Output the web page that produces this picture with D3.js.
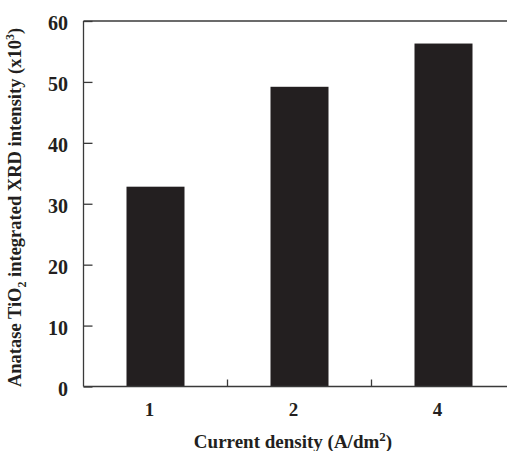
<!DOCTYPE html>
<html><head><meta charset="utf-8">
<script src="https://cdn.jsdelivr.net/npm/d3@7"></script>
<style>body{margin:0;background:#fff}svg{display:block}text{font-family:"Liberation Serif","Times New Roman",serif;font-weight:bold;fill:#231f20}</style>
</head><body><svg id="c" width="507" height="451"></svg>
<script>
const categories = ["1", "2", "4"];
const values = [32.8, 49.2, 56.3];
const yTicks = [0, 10, 20, 30, 40, 50, 60];

const svg = d3.select("#c");
const m = {l: 83.5, t: 21, r: 515.5, b: 386.5};
const x = d3.scaleBand().domain(categories).range([m.l, m.r]).paddingInner(0).paddingOuter(0);
const y = d3.scaleLinear().domain([0, 60]).range([m.b, m.t]);
const barW = 58;

svg.selectAll("rect.bar").data(values).enter().append("rect")
  .attr("x", (d, i) => x(categories[i]) + x.bandwidth() / 2 - barW / 2)
  .attr("y", d => y(d)).attr("width", barW).attr("height", d => y(0) - y(d))
  .attr("fill", "#231f20");

// y axis
const ya = svg.append("g").attr("transform", `translate(${m.l},0)`)
  .call(d3.axisRight(y).tickValues(yTicks).tickSize(9).tickFormat(""));
ya.select(".domain").remove();
ya.selectAll("line").attr("stroke", "#3a3a3a").attr("stroke-width", 1.3);
svg.append("line").attr("x1", m.l).attr("x2", m.l).attr("y1", m.t).attr("y2", m.b)
  .attr("stroke", "#3a3a3a").attr("stroke-width", 1.3);
svg.append("line").attr("x1", m.l).attr("x2", 507).attr("y1", m.t).attr("y2", m.t)
  .attr("stroke", "#3a3a3a").attr("stroke-width", 1.3);
svg.append("line").attr("x1", m.l).attr("x2", 507).attr("y1", m.b).attr("y2", m.b)
  .attr("stroke", "#3a3a3a").attr("stroke-width", 1.3);
svg.selectAll("text.yt").data(yTicks).enter().append("text")
  .attr("x", 68).attr("y", d => y(d) + 9).attr("text-anchor", "end")
  .style("font-size", "20px").text(d => d);

// x ticks between categories
const xt = categories.slice(1).map(c => x(c));
svg.selectAll("line.xt").data(xt).enter().append("line")
  .attr("x1", d => d).attr("x2", d => d).attr("y1", m.b).attr("y2", m.b - 7)
  .attr("stroke", "#3a3a3a").attr("stroke-width", 1.3);
svg.selectAll("text.xl").data(categories).enter().append("text")
  .attr("x", d => x(d) + x.bandwidth() / 2 - 6).attr("y", 416).attr("text-anchor", "middle")
  .style("font-size", "19px").text(d => d);

const xtTxt = svg.append("text").attr("x", 293).attr("y", 448).attr("text-anchor", "middle")
  .style("font-size", "19px");
xtTxt.append("tspan").text("Current density (A/dm");
xtTxt.append("tspan").attr("dy", -7).style("font-size", "13px").text("2");
xtTxt.append("tspan").attr("dy", 7).text(")");

const yl = svg.append("text").attr("transform", `translate(21,${(20 + 395) / 2}) rotate(-90)`)
  .attr("text-anchor", "middle").style("font-size", "18.5px");
yl.append("tspan").text("Anatase TiO");
yl.append("tspan").attr("dy", 5).style("font-size", "12px").text("2");
yl.append("tspan").attr("dy", -5).text(" integrated XRD intensity (x10");
yl.append("tspan").attr("dy", -7).style("font-size", "12px").text("3");
yl.append("tspan").attr("dy", 7).text(")");
</script></body></html>
